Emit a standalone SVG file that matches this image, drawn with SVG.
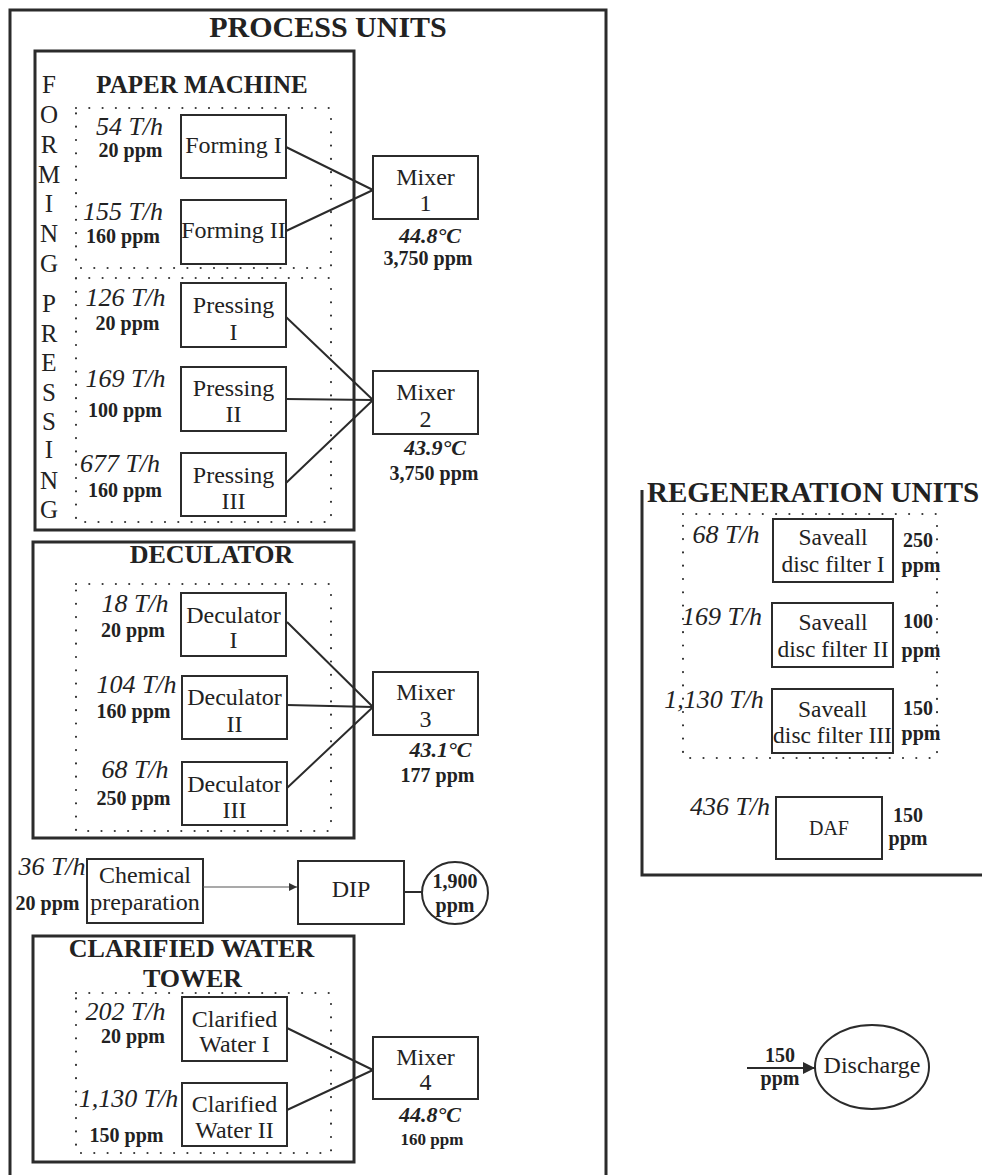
<svg xmlns="http://www.w3.org/2000/svg" width="982" height="1175" viewBox="0 0 982 1175">
<defs>
<marker id="arrThin" viewBox="0 0 10 10" refX="10" refY="5" markerWidth="10" markerHeight="8" orient="auto" markerUnits="userSpaceOnUse"><path d="M0,0 L10,5 L0,10 z" fill="#333"/></marker>
<marker id="arrBold" viewBox="0 0 10 10" refX="10" refY="5" markerWidth="14" markerHeight="12" orient="auto" markerUnits="userSpaceOnUse"><path d="M0,0 L10,5 L0,10 z" fill="#2b2b2b"/></marker>
</defs>
<style>
.frame{fill:none;stroke:#2b2b2b;stroke-width:3}
.box{fill:none;stroke:#2b2b2b;stroke-width:2}
.dot{fill:none;stroke:#333;stroke-width:2.2;stroke-dasharray:0 13.3;stroke-linecap:round}
.ln{fill:none;stroke:#2b2b2b;stroke-width:2}
.thin{fill:none;stroke:#555;stroke-width:1.2}
text{font-family:"Liberation Serif","Times New Roman",serif;fill:#222}
.t{font-size:24px;text-anchor:middle}
.s{font-size:23.5px;text-anchor:middle}
.v{font-size:25px;text-anchor:middle}
.f{font-size:26px;font-style:italic;text-anchor:middle}
.b{font-size:20px;font-weight:bold;text-anchor:middle}
.bs{font-size:17px;font-weight:bold;text-anchor:middle}
.bi{font-size:22px;font-weight:bold;font-style:italic;text-anchor:middle}
.h{font-weight:bold;text-anchor:middle}
</style>
<rect width="982" height="1175" fill="#fff"/>

<g id="process-units">
<rect class="frame" x="10" y="10" width="596" height="1180"/>
<text class="h" x="328" y="37" font-size="30">PROCESS UNITS</text>
</g>

<g id="paper-machine">
<rect class="frame" x="35" y="51" width="319" height="479"/>
<text class="h" x="202" y="93" font-size="25">PAPER MACHINE</text>
<rect class="dot" x="76" y="108" width="255" height="160"/>
<rect class="dot" x="76" y="278" width="255" height="244"/>
<g id="forming-label">
<text class="v" x="49" y="93">F</text><text class="v" x="49" y="123">O</text><text class="v" x="49" y="153">R</text><text class="v" x="49" y="183">M</text><text class="v" x="49" y="212">I</text><text class="v" x="49" y="242">N</text><text class="v" x="49" y="272">G</text>
</g>
<g id="pressing-label">
<text class="v" x="49" y="312">P</text><text class="v" x="49" y="342">R</text><text class="v" x="49" y="371">E</text><text class="v" x="49" y="401">S</text><text class="v" x="49" y="430">S</text><text class="v" x="49" y="458">I</text><text class="v" x="49" y="489">N</text><text class="v" x="49" y="518">G</text>
</g>
</g>

<g id="forming-1">
<rect class="box" x="181" y="115" width="105" height="63"/>
<text class="t" x="233.5" y="153">Forming I</text>
<text class="f" x="129.5" y="135">54 T/h</text>
<text class="b" x="130.5" y="157">20 ppm</text>
</g>
<g id="forming-2">
<rect class="box" x="181" y="200" width="105" height="64"/>
<text class="t" x="233.5" y="238">Forming II</text>
<text class="f" x="123" y="220">155 T/h</text>
<text class="b" x="123" y="243">160 ppm</text>
</g>
<g id="pressing-1">
<rect class="box" x="181" y="283" width="105" height="64"/>
<text class="t" x="233.5" y="313">Pressing</text>
<text class="t" x="233.5" y="340">I</text>
<text class="f" x="125.5" y="306">126 T/h</text>
<text class="b" x="127.5" y="330">20 ppm</text>
</g>
<g id="pressing-2">
<rect class="box" x="181" y="367" width="105" height="64"/>
<text class="t" x="233.5" y="396">Pressing</text>
<text class="t" x="233.5" y="422">II</text>
<text class="f" x="125.5" y="387">169 T/h</text>
<text class="b" x="125" y="417">100 ppm</text>
</g>
<g id="pressing-3">
<rect class="box" x="181" y="453" width="105" height="63"/>
<text class="t" x="233.5" y="483">Pressing</text>
<text class="t" x="233.5" y="509">III</text>
<text class="f" x="120" y="472">677 T/h</text>
<text class="b" x="125" y="497">160 ppm</text>
</g>

<g id="mixer-1">
<rect class="box" x="373" y="156" width="105" height="63"/>
<text class="t" x="425.5" y="185">Mixer</text>
<text class="t" x="425.5" y="211">1</text>
<text class="bi" x="430" y="243">44.8°C</text>
<text class="b" x="428" y="265">3,750 ppm</text>
</g>
<g id="mixer-2">
<rect class="box" x="373" y="371" width="105" height="63"/>
<text class="t" x="425.5" y="400">Mixer</text>
<text class="t" x="425.5" y="427">2</text>
<text class="bi" x="435" y="455">43.9°C</text>
<text class="b" x="434" y="480">3,750 ppm</text>
</g>

<g id="deculator">
<rect class="frame" x="33" y="542" width="321" height="296"/>
<text class="h" x="211.5" y="563" font-size="26">DECULATOR</text>
<rect class="dot" x="76" y="584" width="255" height="247"/>
</g>
<g id="deculator-1">
<rect class="box" x="181" y="593" width="105" height="63"/>
<text class="t" x="233.5" y="623">Deculator</text>
<text class="t" x="233.5" y="648">I</text>
<text class="f" x="135" y="612">18 T/h</text>
<text class="b" x="133" y="637">20 ppm</text>
</g>
<g id="deculator-2">
<rect class="box" x="182" y="676" width="105" height="63"/>
<text class="t" x="234.5" y="705">Deculator</text>
<text class="t" x="234.5" y="732">II</text>
<text class="f" x="136.5" y="693">104 T/h</text>
<text class="b" x="133.5" y="718">160 ppm</text>
</g>
<g id="deculator-3">
<rect class="box" x="182" y="762" width="105" height="63"/>
<text class="t" x="234.5" y="792">Deculator</text>
<text class="t" x="234.5" y="818">III</text>
<text class="f" x="135" y="778">68 T/h</text>
<text class="b" x="133.5" y="805">250 ppm</text>
</g>
<g id="mixer-3">
<rect class="box" x="373" y="672" width="105" height="63"/>
<text class="t" x="425.5" y="700">Mixer</text>
<text class="t" x="425.5" y="727">3</text>
<text class="bi" x="440.5" y="757">43.1°C</text>
<text class="b" x="437.5" y="782">177 ppm</text>
</g>

<g id="chemical-preparation">
<rect class="box" x="87" y="859" width="116" height="64"/>
<text class="t" x="145" y="883">Chemical</text>
<text class="t" x="145" y="910">preparation</text>
<text class="f" x="52" y="875">36 T/h</text>
<text class="b" x="47.5" y="910">20 ppm</text>
</g>
<g id="dip">
<rect class="box" x="298" y="861" width="106" height="63"/>
<text class="t" x="351" y="897">DIP</text>
</g>
<g id="dip-concentration">
<ellipse class="box" cx="455" cy="893" rx="33" ry="31"/>
<text class="b" x="455" y="888">1,900</text>
<text class="b" x="455" y="912">ppm</text>
</g>

<g id="clarified-water-tower">
<rect class="frame" x="33" y="936" width="321" height="226"/>
<text class="h" x="191.5" y="957" font-size="26">CLARIFIED WATER</text>
<text class="h" x="192.5" y="987" font-size="26">TOWER</text>
<rect class="dot" x="76" y="993" width="255" height="160"/>
</g>
<g id="clarified-water-1">
<rect class="box" x="182" y="997" width="105" height="64"/>
<text class="t" x="234.5" y="1027">Clarified</text>
<text class="t" x="234.5" y="1052">Water I</text>
<text class="f" x="125.5" y="1020">202 T/h</text>
<text class="b" x="133" y="1043">20 ppm</text>
</g>
<g id="clarified-water-2">
<rect class="box" x="182" y="1083" width="105" height="63"/>
<text class="t" x="234.5" y="1112">Clarified</text>
<text class="t" x="234.5" y="1138">Water II</text>
<text class="f" x="128.5" y="1107">1,130 T/h</text>
<text class="b" x="126.5" y="1142">150 ppm</text>
</g>
<g id="mixer-4">
<rect class="box" x="373" y="1037" width="105" height="62"/>
<text class="t" x="425.5" y="1065">Mixer</text>
<text class="t" x="425.5" y="1090">4</text>
<text class="bi" x="430" y="1122">44.8°C</text>
<text class="bs" x="432" y="1145">160 ppm</text>
</g>

<g id="regeneration-units">
<path class="frame" d="M642,490 V875 H990"/>
<text x="647" y="502" font-size="29" font-weight="bold">REGENERATION UNITS</text>
<rect class="dot" x="683" y="514" width="254" height="244"/>
</g>
<g id="saveall-1">
<rect class="box" x="773" y="519" width="120" height="63"/>
<text class="s" x="833" y="545">Saveall</text>
<text class="s" x="833" y="572">disc filter I</text>
<text class="f" x="726" y="543">68 T/h</text>
<text class="b" x="918" y="547">250</text>
<text class="b" x="921" y="572">ppm</text>
</g>
<g id="saveall-2">
<rect class="box" x="772" y="603" width="121" height="64"/>
<text class="s" x="833" y="630">Saveall</text>
<text class="s" x="833" y="657">disc filter II</text>
<text class="f" x="722" y="625">169 T/h</text>
<text class="b" x="918" y="628">100</text>
<text class="b" x="921" y="657">ppm</text>
</g>
<g id="saveall-3">
<rect class="box" x="772" y="689" width="121" height="64"/>
<text class="s" x="832.5" y="717">Saveall</text>
<text class="s" x="832.5" y="743">disc filter III</text>
<text class="f" x="714" y="708">1,130 T/h</text>
<text class="b" x="918" y="715">150</text>
<text class="b" x="921" y="740">ppm</text>
</g>
<g id="daf">
<rect class="box" x="776" y="797" width="106" height="62"/>
<text x="829" y="835" font-size="20" text-anchor="middle">DAF</text>
<text class="f" x="730" y="815">436 T/h</text>
<text class="b" x="908" y="822">150</text>
<text class="b" x="908" y="845">ppm</text>
</g>

<g id="discharge">
<ellipse class="box" cx="872" cy="1067" rx="57" ry="42"/>
<text class="t" x="872" y="1073">Discharge</text>
</g>

<g id="connectors">
<path class="ln" d="M286,147 L373,190 M286,231 L373,190"/>
<path class="ln" d="M286,317 L373,400 M286,399 L373,400 M286,483 L373,400"/>
<path class="ln" d="M287,622 L373,707 M287,705 L373,707 M287,788 L373,707"/>
<path class="ln" d="M287,1028 L373,1070 M287,1110 L373,1070"/>
<path class="thin" d="M203,887 H297" marker-end="url(#arrThin)"/>
<path class="ln" d="M404,892 H422"/>
<path class="ln" d="M747,1068 H815" marker-end="url(#arrBold)"/>
<text class="b" x="780" y="1062">150</text>
<text class="b" x="780" y="1085">ppm</text>
</g>
</svg>
